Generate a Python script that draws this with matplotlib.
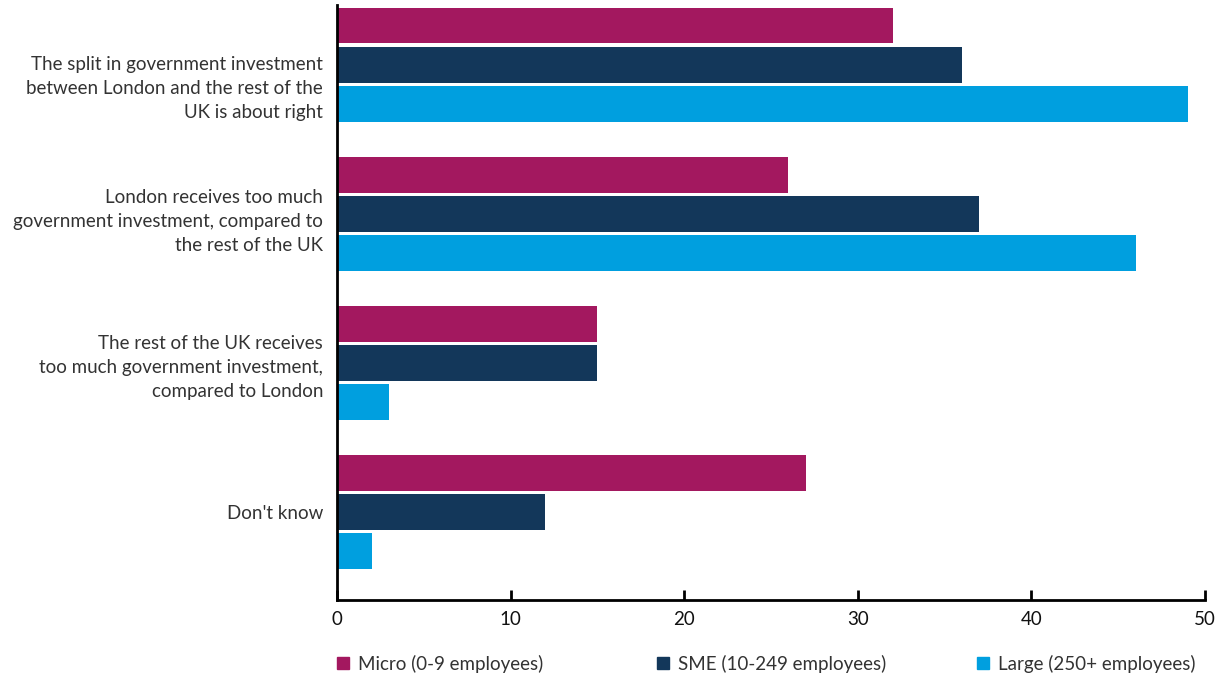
import numpy as np
import matplotlib.pyplot as plt
from matplotlib.patches import Rectangle

categories = [
    "The split in government investment\nbetween London and the rest of the\nUK is about right",
    "London receives too much\ngovernment investment, compared to\nthe rest of the UK",
    "The rest of the UK receives\ntoo much government investment,\ncompared to London",
    "Don't know",
]
micro = [32, 26, 15, 27]
sme = [36, 37, 15, 12]
large = [49, 46, 3, 2]
series_names = ["Micro (0-9 employees)", "SME (10-249 employees)", "Large (250+ employees)"]
colors = ["#A3185F", "#13375A", "#009FDF"]

plt.rcParams['font.family'] = ['Lato', 'DejaVu Sans']
txt = '#333333'
W, H = 1223, 676

fig = plt.figure(figsize=(12.23, 6.76), dpi=100)
ax = fig.add_axes([337/W, 1 - 600/H, (1205-337)/W, (600-5)/H])

y = np.arange(len(categories))
h = 0.24
step = 0.262
for i, (vals, c) in enumerate(zip([micro, sme, large], colors)):
    ax.barh(y + (i - 1) * step, vals, height=h, color=c, label=series_names[i])

ax.set_xlim(0, 50)
ax.set_ylim(3.59, -0.40)
ax.set_xticks(range(0, 51, 10))
# first label sits a little lower than its group in the original
label_shift = np.array([0.125, 0.02, 0, 0])
ax.set_yticks(y + label_shift)
ax.set_yticklabels(categories, fontsize=13.5, color=txt, linespacing=1.5)
ax.tick_params(axis='y', length=0, pad=10)
ax.tick_params(axis='x', direction='in', length=7, width=2, labelsize=13.5, colors='black', pad=8)
for lab in ax.get_xticklabels():
    lab.set_color('#111111')
for s in ['top', 'right']:
    ax.spines[s].set_visible(False)
for s in ['left', 'bottom']:
    ax.spines[s].set_linewidth(2)

# legend drawn by hand so entries sit where the reference has them
leg_x = [337, 657, 977]
for lx, name, c in zip(leg_x, series_names, colors):
    fig.patches.append(Rectangle((lx/W, 1 - 669/H), 12/W, 12/H, color=c,
                                 transform=fig.transFigure, figure=fig))
    fig.text((lx + 21)/W, 1 - 664/H, name, fontsize=13.5, color=txt, va='center', ha='left')

fig.savefig('out.png', dpi=100)
